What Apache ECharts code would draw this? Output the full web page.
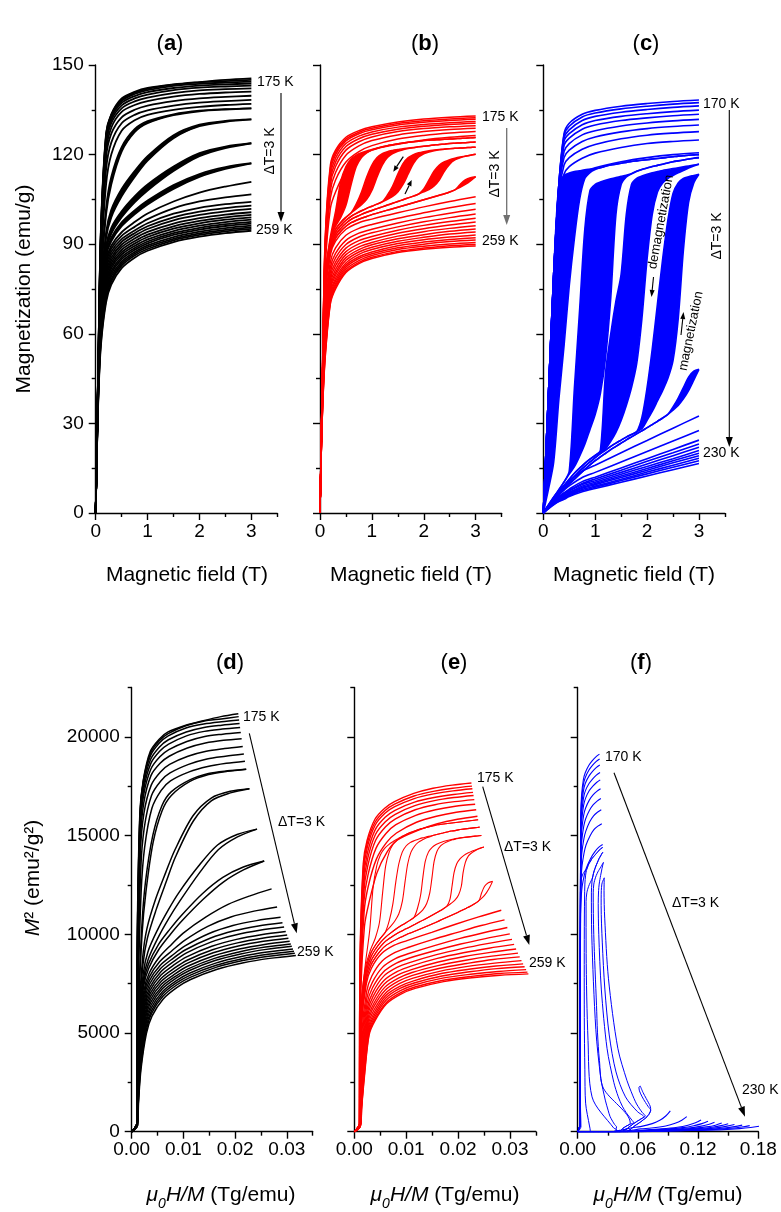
<!DOCTYPE html>
<html>
<head>
<meta charset="utf-8">
<title>Magnetization isotherms and Arrott plots</title>
<script src="https://cdn.jsdelivr.net/npm/echarts@6/dist/echarts.min.js"></script>
<style>
  html, body { margin: 0; padding: 0; background: #fff; }
  #chart { width: 781px; height: 1212px; }
</style>
</head>
<body>
<div id="chart"></div>
<script>
// ---------- panel (a): black isotherms, 175 K ... 259 K ----------
const fieldA = [0, 0.02, 0.05, 0.1, 0.2, 0.3, 0.5, 0.75, 1, 1.5, 2, 2.5, 3];
const tempsA = [175,178,181,184,187,190,193,196,199,202,205,208,211,214,217,220,223,226,229,232,235,238,241,244,247,250,253,256,259];
const magA = [
  [0,20,50,95,127,133.5,138.8,141,142.3,143.5,144.3,145,145.5],
  [0,20,50,94,126.5,133.3,138.4,140.7,142,143.4,144.2,144.6,145],
  [0,20,50,94,126,133,138,140.3,141.6,143,143.7,144.1,144.4],
  [0,20,50,93,125,132.3,137.3,139.6,140.9,142.3,143.1,143.5,143.8],
  [0,20,50,92,124,131.5,136.5,138.8,140.1,141.6,142.4,142.8,143.1],
  [0,20,49,91,123,130.5,135.5,137.8,139.1,140.6,141.5,141.9,142.2],
  [0,20,49,90,121,129,134.3,136.6,137.9,139.4,140.3,140.8,141.1],
  [0,20,49,88,119,127,132.5,135,136.4,137.9,138.8,139.3,139.7],
  [0,20,48,85,115,124,130.5,133.3,134.8,136.4,137.4,137.9,138.3],
  [0,20,48,82,110,120,128,131.5,133.3,135,136,136.6,137],
  [0,20,47,77,100,110,121,127.5,130.5,133.2,134.5,135.1,135.5],
  [0,20,47,74,92,99,106,112.5,118,125.5,129.5,131,131.8],
  [0,20,46,72,88,93.5,99,104,108,114.5,119.5,122.2,123.8],
  [0,20,46,71,86,91,96,100,103.3,108.5,112.5,115.2,117.1],
  [0,20,45,70,84.5,89.5,94,97.4,100.3,104.3,107.3,109.3,110.9],
  [0,20,45,69,83.5,88.5,92.8,95.8,98.4,102,104.3,105.7,106.7],
  [0,20,44,68,82.5,87.5,91.7,94.6,97,100.2,102.2,103.4,104.2],
  [0,20,44,67,81.5,86.5,90.8,93.7,96,99,100.9,102.1,102.9],
  [0,19,43,66,80.5,85.5,89.9,92.8,95.1,98,99.8,101,101.8],
  [0,19,43,65,79.5,84.6,89,91.9,94.1,96.9,98.7,99.9,100.7],
  [0,19,42,64,78.5,83.7,88.1,91,93.2,96,97.8,99,99.8],
  [0,19,42,63,77.5,82.8,87.3,90.2,92.4,95.2,97,98.2,99],
  [0,19,41,62,76.5,81.9,86.5,89.4,91.6,94.4,96.2,97.4,98.2],
  [0,19,41,61,75.5,81,85.7,88.7,90.9,93.7,95.5,96.7,97.5],
  [0,19,40,60,74.5,80.1,85,88.1,90.3,93.1,94.9,96.1,96.9],
  [0,18,40,59,73.5,79.2,84.2,87.4,89.6,92.4,94.2,95.4,96.2],
  [0,18,39,58,72.5,78.3,83.5,86.8,89,91.8,93.6,94.8,95.6],
  [0,18,39,57,71.5,77.5,82.8,86.2,88.4,91.3,93.1,94.3,95.1],
  [0,18,38,56,70.5,76.5,82,85.5,87.8,90.7,92.5,93.7,94.5]
];
// field-decreasing branches of the hysteretic isotherms in (a)
const loopTempsA = [205, 208, 211, 214];
const loopDownA = [
  [0,20,47,78,102,112.5,122.5,128.5,131.2,133.5,134.7,135.2,135.5],
  [0,20,47,75,94,101.5,108.5,114.5,119.5,126.5,130,131.3,131.8],
  [0,20,46,73,89.5,95.5,101,106,110,116,120.5,122.7,123.8],
  [0,20,46,72,87,92.2,97.3,101.3,104.6,109.8,113.5,115.8,117.1]
];

// ---------- panel (b): red isotherms ----------
const fieldB = [0, 0.02, 0.05, 0.1, 0.2, 0.3, 0.5, 0.75, 1, 1.5, 2, 2.5, 3];
const tempsB = [175,178,181,184,187,190,193,196,199,217,220,223,226,229,232,235,238,241,244,247,250,253,256,259];
const magB = [
  [0,20,50,92,116.5,121.5,125.8,128,129.3,130.9,131.9,132.5,132.9],
  [0,20,50,91,115.5,120.8,125.2,127.5,128.8,130.4,131.3,131.9,132.3],
  [0,20,49,90,114.5,120,124.6,127,128.3,129.9,130.8,131.4,131.8],
  [0,20,49,89,113,118.8,123.7,126.2,127.6,129.2,130.1,130.7,131.1],
  [0,20,49,88,111.5,117.5,122.7,125.3,126.8,128.5,129.5,130.1,130.5],
  [0,20,48,87,110,116,121.5,124.3,125.9,127.7,128.7,129.3,129.7],
  [0,20,48,86,108,114,119.8,122.9,124.7,126.6,127.7,128.4,128.8],
  [0,19,47,84,105.5,111.5,117.5,121,123,125.2,126.4,127.2,127.7],
  [0,19,47,82,102,107.5,114.5,119,121.5,123.5,124.9,125.8,126.4],
  [0,19,45,73,86.5,91,95,97.2,98.4,100.5,102.5,104.3,105.9],
  [0,18.7,43.6,70.1,84.2,88.8,93,95.3,96.6,98.7,100.5,102.2,103.6],
  [0,18.5,42.5,67.6,82.3,86.9,91.3,93.7,95,97.1,98.9,100.4,101.7],
  [0,18.3,41.5,65.6,80.7,85.4,89.9,92.4,93.8,95.8,97.5,98.9,100.1],
  [0,18.1,40.6,63.8,79.3,84,88.7,91.2,92.6,94.7,96.3,97.6,98.7],
  [0,18,39.9,62.2,78,82.8,87.5,90.1,91.6,93.7,95.2,96.4,97.4],
  [0,17.8,39.1,60.7,76.8,81.6,86.5,89.1,90.6,92.7,94.2,95.3,96.2],
  [0,17.7,38.5,59.2,75.7,80.5,85.5,88.2,89.8,91.8,93.2,94.3,95.1],
  [0,17.6,37.9,58,74.7,79.6,84.6,87.4,89,91,92.3,93.4,94.1],
  [0,17.4,37.2,56.7,73.7,78.6,83.7,86.6,88.2,90.2,91.5,92.4,93.1],
  [0,17.3,36.7,55.6,72.8,77.7,83,85.8,87.4,89.5,90.7,91.6,92.2],
  [0,17.2,36.2,54.5,72,76.9,82.3,85.2,86.8,88.8,90,90.9,91.4],
  [0,17.1,35.7,53.5,71.2,76.2,81.6,84.5,86.2,88.2,89.3,90.1,90.6],
  [0,17.1,35.3,52.6,70.5,75.5,80.9,83.9,85.6,87.6,88.7,89.5,89.9],
  [0,17,35,52,70,75,80.5,83.5,85.2,87.2,88.3,89,89.4]
];
// metamagnetic loops in (b): up = increasing field, down = decreasing field
const loopTempsB = [202, 205, 208, 211, 214];
const loopFieldB = [0,0.02,0.05,0.1,0.2,0.3,0.4,0.5,0.6,0.7,0.8,0.9,1,1.1,1.2,1.3,1.4,1.5,1.6,1.7,1.8,1.9,2,2.1,2.2,2.3,2.4,2.5,2.6,2.7,2.8,2.9,3];
const loopUpB = [
  [0,19,47,79,91.5,96,99,103,110,116,119,120.6,121.5,122.1,122.6,123,123.3,123.6,123.9,124.1,124.3,124.5,124.7,124.8,124.9,125,125.1,125.2,125.3,125.4,125.5,125.6,125.7],
  [0,19,47,78,90.5,95,97.3,99,100.5,101.8,103.2,105,108,112.5,116.5,119,120.3,121.1,121.6,122,122.3,122.6,122.8,123,123.2,123.4,123.5,123.7,123.8,123.9,124,124.1,124.2],
  [0,19,46,77,89.5,94,96.3,98,99.3,100.3,101.2,102,102.7,103.4,104.2,105,106,107.5,110,113.5,117,119.2,120.3,120.9,121.3,121.6,121.8,122,122.1,122.2,122.3,122.4,122.5],
  [0,19,46,76,88.5,93,95.3,97,98.3,99.2,100,100.7,101.3,101.9,102.5,103.1,103.7,104.3,104.9,105.5,106.1,106.8,107.5,108.3,109.5,111.5,114.5,116.8,118.2,118.9,119.4,119.8,120.1],
  [0,19,45,74,87.5,92,94.3,96,97.2,98,98.7,99.3,99.9,100.4,100.9,101.4,101.9,102.4,102.9,103.4,103.9,104.4,104.9,105.4,105.9,106.4,106.9,107.5,108.2,109,110,111.2,112.6]
];
const loopDownB = [
  [0,19,47,79,92.5,101,111,116,118.5,119.8,120.6,121.2,121.7,122.2,122.6,123,123.3,123.6,123.9,124.1,124.3,124.5,124.7,124.8,124.9,125,125.1,125.2,125.3,125.4,125.5,125.6,125.7],
  [0,19,47,78,90.5,95,97.3,99,100.5,103.5,107.5,112.5,116.5,119,120.3,121,121.4,121.7,122,122.2,122.4,122.6,122.8,123,123.2,123.4,123.5,123.7,123.8,123.9,124,124.1,124.2],
  [0,19,46,77,89.5,94,96.3,98,99.3,100.3,101.2,102,102.7,103.4,104.2,106.5,109.5,113.5,117,119,120,120.6,121,121.3,121.5,121.7,121.9,122,122.1,122.2,122.3,122.4,122.5],
  [0,19,46,76,88.5,93,95.3,97,98.3,99.2,100,100.7,101.3,101.9,102.5,103.1,103.7,104.3,104.9,105.5,106.1,106.8,108.5,111.5,114.5,116.5,117.6,118.3,118.8,119.2,119.5,119.8,120.1],
  [0,19,45,74,87.5,92,94.3,96,97.2,98,98.7,99.3,99.9,100.4,100.9,101.4,101.9,102.4,102.9,103.4,103.9,104.4,104.9,105.4,105.9,106.4,106.9,107.5,108.2,110,111.5,112.3,112.6]
];

// ---------- panel (c): blue isotherms ----------
const fieldC = [0, 0.05, 0.1, 0.2, 0.3, 0.4, 0.5, 0.75, 1, 1.5, 2, 2.5, 3];
const tempsC = [170,173,176,179,182,185,188,191,194,197,215,218,221,224,227,230,233,236,239,242,245];
const magC = [
  [0,20,40,80,110,127,130.5,133.5,134.8,136.2,137.1,137.8,138.3],
  [0,20,40,80,110,126.5,129.5,132.6,133.9,135.3,136.2,136.9,137.4],
  [0,20,40,80,110,125.5,128.3,131.4,132.8,134.2,135.1,135.8,136.3],
  [0,20,40,80,109.5,124.5,127,130,131.4,132.8,133.7,134.4,134.9],
  [0,20,40,80,109,123,125.5,128.5,129.9,131.4,132.3,133,133.5],
  [0,20,40,79,108.5,121,123.7,126.6,128,129.6,130.6,131.3,131.8],
  [0,20,40,79,108,119,121.5,124.4,125.9,127.6,128.7,129.4,129.9],
  [0,20,40,79,107,116.5,119,121.8,123.4,125.3,126.5,127.2,127.7],
  [0,20,40,78,106,113.5,116,118.8,120.5,122.4,123.7,124.4,124.9],
  [0,19,39,77,104,109.5,111.5,114,115.6,117.6,119,120,120.6],
  [0,1.5,2.8,5.4,7.5,9.1,10.7,14,16,20.2,24.3,28.4,32.5],
  [0,1.2,2.3,4.6,6.3,7.7,9.1,11.9,13.6,17.1,20.6,24.1,27.6],
  [0,1.1,2.1,4,5.6,6.8,8,10.5,12,15.1,18.2,21.3,24.4],
  [0,1,2,3.8,5.3,6.5,7.6,9.9,11.4,14.3,17.3,20.2,23.1],
  [0,1,1.9,3.6,5.1,6.2,7.3,9.5,10.8,13.6,16.4,19.2,22],
  [0,0.9,1.8,3.4,4.8,5.9,6.9,9,10.3,13,15.6,18.2,20.9],
  [0,0.9,1.7,3.3,4.6,5.6,6.6,8.6,9.9,12.4,14.9,17.5,20],
  [0,0.9,1.6,3.2,4.4,5.4,6.3,8.3,9.5,11.9,14.3,16.8,19.2],
  [0,0.8,1.6,3,4.2,5.1,6,7.9,9,11.3,13.7,16,18.3],
  [0,0.8,1.5,2.9,4,4.9,5.8,7.5,8.6,10.9,13.1,15.3,17.5],
  [0,0.7,1.4,2.7,3.8,4.6,5.5,7.1,8.2,10.3,12.4,14.5,16.6]
];
const loopTempsC = [200, 203, 206, 209, 212];
const loopFieldC = [0,0.05,0.1,0.2,0.3,0.4,0.5,0.6,0.7,0.8,0.9,1,1.1,1.2,1.3,1.4,1.5,1.6,1.7,1.8,1.9,2,2.1,2.2,2.3,2.4,2.5,2.6,2.7,2.8,2.9,3];
const loopUpC = [
  [0,4,8,17,38,56,76,92,105,112,114,115,115.6,116.1,116.5,116.8,117.1,117.4,117.7,117.9,118.1,118.3,118.5,118.7,118.9,119.1,119.3,119.5,119.6,119.8,119.9,120],
  [0,1.3,2.6,5.2,7.8,10.4,13,15.5,19,23,28,33,40,52,72,100,110,112.5,113.6,114.4,115,115.5,116,116.4,116.8,117.2,117.6,117.9,118.2,118.5,118.8,119],
  [0,1.2,2.4,4.7,7,9.2,11.3,13.3,15,16.6,18,19.3,20.3,21.5,24,27,31,36,42,50,65,85,100,107.5,110.5,112,113,113.9,114.7,115.5,116.2,116.8],
  [0,1.2,2.3,4.5,6.6,8.6,10.4,12.2,14,15.6,17.1,18.5,19.9,21.1,22.3,23.4,24.4,25.4,26.3,27.2,28.2,31,34,37.5,41,45,51,65,88,104,110.5,113.4],
  [0,1,2,4.1,6,7.9,9.7,11.3,13,14.6,16.1,17.5,18.8,20,21.2,22.3,23.4,24.5,25.5,26.5,27.5,28.6,29.6,30.7,31.8,33,34.4,36,38.2,41,44.5,48.1]
];
const loopDownC = [
  [0,15.5,36,80,110,113,113.8,114.3,114.6,114.9,115.1,115.3,115.6,116.1,116.5,116.8,117.1,117.4,117.7,117.9,118.1,118.3,118.5,118.7,118.9,119.1,119.3,119.5,119.6,119.8,119.9,120],
  [0,1.3,2.6,5.2,7.8,10.4,14,42,68,95,108,110,110.8,111.4,111.9,112.3,112.7,113.1,113.6,114.4,115,115.5,116,116.4,116.8,117.2,117.6,117.9,118.2,118.5,118.8,119],
  [0,1.2,2.4,4.7,7,9.2,11.3,13.3,15,16.6,18,19.3,21,47,60,71,80,100,110,112,112.8,113.4,113.9,114.3,114.7,115,115.3,115.6,115.9,116.2,116.5,116.8],
  [0,1.2,2.3,4.5,6.6,8.6,10.4,12.2,14,15.6,17.1,18.5,19.9,21.1,22.3,23.4,24.4,25.4,26.3,27.2,32,42,55,70,85,98,107,110.5,112,112.6,113,113.4],
  [0,1,2,4.1,6,7.9,9.7,11.3,13,14.6,16.1,17.5,18.8,20,21.2,22.3,23.4,24.5,25.5,26.5,27.5,28.6,29.6,30.7,31.8,33,35.5,38.5,42,45.5,47.5,48.1]
];

// ---------- axis ticks ----------
const fieldTicks = [0, 1, 2, 3];
const fieldMinor = [0.5, 1.5, 2.5, 3.5];
const magTicks = [0, 30, 60, 90, 120, 150];
const magMinor = [15, 45, 75, 105, 135];
const arrottXTicks = [0, 0.01, 0.02, 0.03];
const arrottXMinor = [0.005, 0.015, 0.025, 0.035];
const arrottXTicksF = [0, 0.06, 0.12, 0.18];
const arrottXMinorF = [0.03, 0.09, 0.15];
const m2Ticks = [0, 5000, 10000, 15000, 20000];
const m2Minor = [2500, 7500, 12500, 17500, 22500];

const FONT = '"Liberation Sans", Arial, Helvetica, sans-serif';
const BLACK = '#000000', RED = '#ff0000', BLUE = '#0000ff';

const grids = [
  { left: 95.7, top: 65, width: 181.6, height: 448 },
  { left: 320, top: 65, width: 181.6, height: 448 },
  { left: 543.3, top: 65, width: 181.6, height: 448 },
  { left: 131.7, top: 687.5, width: 181, height: 444.2 },
  { left: 354.3, top: 687.5, width: 181.6, height: 444.2 },
  { left: 577.7, top: 687.5, width: 180.6, height: 444.2 }
].map(g => Object.assign({ outerBoundsMode: 'none', containLabel: false }, g));

const fmtInt = v => String(v);
const fmt2 = v => v.toFixed(2);
const specs = [
  { xMax: 3.5, xT: fieldTicks, xM: fieldMinor, xF: fmtInt, yMax: 150, yT: magTicks, yM: magMinor, yLab: true },
  { xMax: 3.5, xT: fieldTicks, xM: fieldMinor, xF: fmtInt, yMax: 150, yT: magTicks, yM: magMinor, yLab: false },
  { xMax: 3.5, xT: fieldTicks, xM: fieldMinor, xF: fmtInt, yMax: 150, yT: magTicks, yM: magMinor, yLab: false },
  { xMax: 0.035, xT: arrottXTicks, xM: arrottXMinor, xF: fmt2, yMax: 22500, yT: m2Ticks, yM: m2Minor, yLab: true },
  { xMax: 0.035, xT: arrottXTicks, xM: arrottXMinor, xF: fmt2, yMax: 22500, yT: m2Ticks, yM: m2Minor, yLab: false },
  { xMax: 0.18, xT: arrottXTicksF, xM: arrottXMinorF, xF: fmt2, yMax: 22500, yT: m2Ticks, yM: m2Minor, yLab: false }
];

const xAxis = [], yAxis = [];
const axisLine = { show: true, onZero: false, lineStyle: { color: BLACK, width: 1.4 } };
const tickStyle = { color: BLACK, width: 1.4 };
specs.forEach((s, g) => {
  const base = { gridIndex: g, type: 'value', min: 0, splitLine: { show: false } };
  xAxis.push(Object.assign({}, base, {
    max: s.xMax, position: 'bottom', axisLine,
    axisTick: { show: true, length: 7, customValues: s.xT, lineStyle: tickStyle },
    axisLabel: { show: true, customValues: s.xT, formatter: s.xF, color: BLACK, fontSize: 19, fontFamily: FONT, margin: 9 }
  }));
  xAxis.push(Object.assign({}, base, {
    max: s.xMax, position: 'bottom', axisLine: { show: false },
    axisTick: { show: true, length: 4, customValues: s.xM, lineStyle: tickStyle },
    axisLabel: { show: false }
  }));
  yAxis.push(Object.assign({}, base, {
    max: s.yMax, position: 'left', axisLine,
    axisTick: { show: true, length: 7, customValues: s.yT, lineStyle: tickStyle },
    axisLabel: { show: s.yLab, customValues: s.yT, formatter: fmtInt, color: BLACK, fontSize: 19, fontFamily: FONT, margin: 12 }
  }));
  yAxis.push(Object.assign({}, base, {
    max: s.yMax, position: 'left', axisLine: { show: false },
    axisTick: { show: true, length: 4, customValues: s.yM, lineStyle: tickStyle },
    axisLabel: { show: false }
  }));
});

// ---------- series ----------
const series = [];
const pairs = (hs, ms) => hs.map((h, i) => [h, ms[i]]);
// Arrott coordinates: x = mu0 H / M, y = M^2
const arrott = (hs, ms) => hs.map((h, i) => (ms[i] > 0 ? [h / ms[i], ms[i] * ms[i]] : [0, 0]));

function addLine(g, pts, color, width) {
  series.push({
    type: 'line', xAxisIndex: 2 * g, yAxisIndex: 2 * g, data: pts,
    symbol: 'none', showSymbol: false, smooth: 0.3, silent: true,
    lineStyle: { color, width }, z: 3
  });
}
function addLoop(g, up, down, color) {
  const poly = up.concat(down.slice().reverse());
  series.push({
    type: 'custom', xAxisIndex: 2 * g, yAxisIndex: 2 * g, data: [[0, 0]], silent: true, z: 2,
    renderItem: (params, api) => ({
      type: 'polygon',
      shape: { points: poly.map(p => api.coord(p)), smooth: 0.2 },
      style: { fill: color }
    })
  });
}

// (a) and (d)
magA.forEach(m => {
  addLine(0, pairs(fieldA, m), BLACK, 1.8);
  addLine(3, arrott(fieldA, m), BLACK, 1.5);
});
loopTempsA.forEach((t, k) => {
  const up = magA[tempsA.indexOf(t)], dn = loopDownA[k];
  addLine(0, pairs(fieldA, dn), BLACK, 1.8);
  addLoop(0, pairs(fieldA, up), pairs(fieldA, dn), BLACK);
  addLine(3, arrott(fieldA, dn), BLACK, 1.5);
});

// (b) and (e)
magB.forEach(m => {
  addLine(1, pairs(fieldB, m), RED, 1.5);
  addLine(4, arrott(fieldB, m), RED, 1.4);
});
loopTempsB.forEach((t, k) => {
  const up = loopUpB[k], dn = loopDownB[k];
  addLine(1, pairs(loopFieldB, up), RED, 1.5);
  addLine(1, pairs(loopFieldB, dn), RED, 1.5);
  addLoop(1, pairs(loopFieldB, up), pairs(loopFieldB, dn), RED);
  addLine(4, arrott(loopFieldB, up), RED, 1.1);
  addLine(4, arrott(loopFieldB, dn), RED, 1.1);
});

// (c) and (f)
magC.forEach(m => {
  addLine(2, pairs(fieldC, m), BLUE, 1.6);
  addLine(5, arrott(fieldC, m), BLUE, 1.1);
});
loopTempsC.forEach((t, k) => {
  const up = loopUpC[k], dn = loopDownC[k];
  addLine(2, pairs(loopFieldC, up), BLUE, 1.6);
  addLine(2, pairs(loopFieldC, dn), BLUE, 1.6);
  addLoop(2, pairs(loopFieldC, up), pairs(loopFieldC, dn), BLUE);
  addLine(5, arrott(loopFieldC, up), BLUE, 1);
  addLine(5, arrott(loopFieldC, dn), BLUE, 1);
});

// ---------- annotations ----------
function text(str, x, y, size, align, rotation, rich) {
  const el = {
    type: 'text', x, y, rotation: rotation || 0, silent: true, z: 10,
    style: { text: str, fontSize: size, fontFamily: FONT, fill: BLACK, align: align || 'left', verticalAlign: 'middle' }
  };
  if (rich) el.style.rich = rich;
  return el;
}
function arrow(x1, y1, x2, y2, color, w, hl, hw) {
  const len = Math.hypot(x2 - x1, y2 - y1), ux = (x2 - x1) / len, uy = (y2 - y1) / len;
  const bx = x2 - ux * hl, by = y2 - uy * hl;
  return [
    { type: 'line', silent: true, z: 10, shape: { x1, y1, x2: bx, y2: by }, style: { stroke: color, lineWidth: w } },
    { type: 'polygon', silent: true, z: 10, shape: { points: [[x2, y2], [bx - uy * hw, by + ux * hw], [bx + uy * hw, by - ux * hw]] }, style: { fill: color } }
  ];
}
const titleRich = {
  p: { fontSize: 22, fontFamily: FONT },
  b: { fontSize: 22, fontFamily: FONT, fontWeight: 'bold' }
};
const muRich = {
  i: { fontSize: 21, fontFamily: FONT, fontStyle: 'italic', lineHeight: 32 },
  s: { fontSize: 14, fontFamily: FONT, fontStyle: 'italic', lineHeight: 14, verticalAlign: 'bottom' },
  n: { fontSize: 21, fontFamily: FONT, lineHeight: 32 }
};
const m2Rich = {
  i: { fontSize: 21, fontFamily: FONT, fontStyle: 'italic' },
  n: { fontSize: 21, fontFamily: FONT }
};
const R90 = Math.PI / 2;

const graphic = [
  text('{p|(}{b|a}{p|)}', 170, 44, 22, 'center', 0, titleRich),
  text('{p|(}{b|b}{p|)}', 425, 44, 22, 'center', 0, titleRich),
  text('{p|(}{b|c}{p|)}', 646, 44, 22, 'center', 0, titleRich),
  text('{p|(}{b|d}{p|)}', 230, 663, 22, 'center', 0, titleRich),
  text('{p|(}{b|e}{p|)}', 454, 663, 22, 'center', 0, titleRich),
  text('{p|(}{b|f}{p|)}', 641, 663, 22, 'center', 0, titleRich),

  text('Magnetization (emu/g)', 24, 289, 21, 'center', R90),
  text('Magnetic field (T)', 187, 575, 21, 'center'),
  text('Magnetic field (T)', 411, 575, 21, 'center'),
  text('Magnetic field (T)', 634, 575, 21, 'center'),
  text('{i|M}{n|\u00b2 (emu\u00b2/g\u00b2)}', 33, 878, 21, 'center', R90, m2Rich),
  text('{i|\u03bc}{s|0}{i|H/M}{n| (Tg/emu)}', 221, 1195, 21, 'center', 0, muRich),
  text('{i|\u03bc}{s|0}{i|H/M}{n| (Tg/emu)}', 445, 1195, 21, 'center', 0, muRich),
  text('{i|\u03bc}{s|0}{i|H/M}{n| (Tg/emu)}', 668, 1195, 21, 'center', 0, muRich),

  text('175 K', 257, 82, 14),
  text('259 K', 256, 230, 14),
  text('\u0394T=3 K', 270, 151, 14, 'center', R90),
  text('175 K', 482, 117.5, 14),
  text('259 K', 482, 241, 14),
  text('\u0394T=3 K', 495, 174, 14, 'center', R90),
  text('170 K', 703, 104, 14),
  text('230 K', 703, 453, 14),
  text('\u0394T=3 K', 716.7, 236, 14, 'center', R90),
  text('demagnetization', 661, 222, 13, 'center', 1.39),
  text('magnetization', 691, 331, 13, 'center', 1.37),

  text('175 K', 243, 717, 14),
  text('\u0394T=3 K', 278, 822, 14),
  text('259 K', 297, 952, 14),
  text('175 K', 477, 778, 14),
  text('\u0394T=3 K', 504, 847, 14),
  text('259 K', 529, 963, 14),
  text('170 K', 605, 757, 14),
  text('\u0394T=3 K', 672, 903, 14),
  text('230 K', 742, 1090, 14)
].concat(
  arrow(281, 93, 281, 222, BLACK, 1.1, 10, 3.5),
  arrow(506.7, 128, 506.7, 225, '#707070', 1.3, 10, 3.5),
  arrow(729.3, 110, 729.3, 447, BLACK, 1.1, 10, 3.5),
  arrow(403.3, 156.7, 393.3, 171.7, BLACK, 1.2, 6, 2.5),
  arrow(405, 194, 411.7, 180, BLACK, 1.2, 6, 2.5),
  arrow(653.5, 277, 651.5, 297, BLACK, 1.1, 7, 2.5),
  arrow(681, 335, 683.5, 312, BLACK, 1.1, 7, 2.5),
  arrow(249.3, 733.3, 296.7, 933.3, BLACK, 1.1, 10, 3.5),
  arrow(482.7, 786.7, 529.3, 945, BLACK, 1.1, 10, 3.5),
  arrow(614, 772.7, 745, 1116.7, BLACK, 1.1, 10, 3.5)
);

const chart = echarts.init(document.getElementById('chart'), null, { renderer: 'canvas' });
chart.setOption({
  backgroundColor: '#ffffff',
  animation: false,
  grid: grids,
  xAxis,
  yAxis,
  series,
  graphic
});
</script>
</body>
</html>
